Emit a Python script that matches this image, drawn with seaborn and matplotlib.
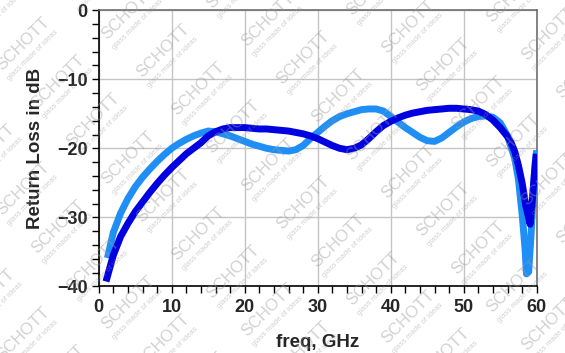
import numpy as np
import pandas as pd
import matplotlib
matplotlib.use("Agg")
import matplotlib.pyplot as plt
import seaborn as sns

# ---- data ----
freq_light = [1.2, 2.0, 3.0, 4.0, 5.0, 6.0, 7.0, 8.0, 9.0, 10.0, 11.0, 12.0, 13.0, 14.0,
              15.0, 16.0, 17.0, 18.0, 19.0, 20.0, 21.0, 22.0, 23.0, 24.0, 25.0, 26.0,
              27.0, 28.0, 29.0, 30.0, 31.0, 32.0, 33.0, 34.0, 35.0, 36.0, 37.0, 38.0,
              39.0, 40.0, 41.0, 42.0, 43.0, 44.0, 45.0, 46.0, 47.0, 48.0, 49.0, 50.0,
              51.0, 52.0, 53.0, 54.0, 55.0, 56.0, 57.0, 57.5, 58.0, 58.4, 58.6, 58.9,
              59.2, 59.5, 59.8, 60.0]
rl_light = [-35.9, -32.2, -29.4, -27.3, -25.6, -24.2, -23.0, -21.9, -20.9, -20.0, -19.3,
            -18.7, -18.2, -17.8, -17.5, -17.6, -17.9, -18.2, -18.6, -19.0, -19.4, -19.7,
            -20.0, -20.2, -20.3, -20.4, -20.2, -19.6, -18.6, -17.7, -16.8, -16.0, -15.4,
            -15.0, -14.7, -14.4, -14.3, -14.3, -14.6, -15.4, -16.2, -17.0, -17.7, -18.4,
            -18.9, -19.0, -18.5, -17.7, -16.9, -16.2, -15.7, -15.4, -15.3, -15.5, -16.3,
            -18.2, -21.5, -24.5, -29.5, -34.5, -38.2, -37.9, -33.0, -27.0, -22.0, -20.3]

freq_dark = [1.0, 1.5, 2.0, 3.0, 4.0, 5.0, 6.0, 7.0, 8.0, 9.0, 10.0, 11.0, 12.0, 13.0,
             14.0, 15.0, 16.0, 17.0, 18.0, 19.0, 20.0, 21.0, 22.0, 23.0, 24.0, 25.0,
             26.0, 27.0, 28.0, 29.0, 30.0, 31.0, 32.0, 33.0, 34.0, 35.0, 36.0, 37.0,
             38.0, 39.0, 40.0, 41.0, 42.0, 43.0, 44.0, 45.0, 46.0, 47.0, 48.0, 49.0,
             50.0, 51.0, 52.0, 53.0, 54.0, 55.0, 56.0, 56.5, 57.0, 57.5, 58.0, 58.5,
             59.1, 59.4, 59.7, 59.95]
rl_dark = [-39.3, -37.4, -35.5, -32.8, -30.9, -29.2, -27.8, -26.4, -25.1, -23.9, -22.8,
           -21.8, -20.8, -20.0, -19.2, -18.2, -17.6, -17.2, -17.0, -17.0, -17.0, -17.1,
           -17.2, -17.2, -17.3, -17.4, -17.5, -17.7, -17.9, -18.2, -18.6, -19.1, -19.6,
           -20.0, -20.2, -20.0, -19.5, -18.6, -17.6, -16.7, -16.1, -15.6, -15.2, -14.9,
           -14.7, -14.5, -14.4, -14.3, -14.2, -14.2, -14.3, -14.4, -14.6, -15.1, -15.9,
           -17.0, -18.3, -19.2, -20.5, -22.5, -25.0, -28.3, -31.0, -27.5, -23.5, -20.8]

x_ticks = [0, 10, 20, 30, 40, 50, 60]
y_ticks = [-40, -30, -20, -10, 0]
x_label = "freq, GHz"
y_label = "Return Loss in dB"

# ---- styling ----
sns.set_theme(style="white")
plt.rcParams["font.family"] = ["Liberation Sans", "DejaVu Sans"]
plt.rcParams["axes.unicode_minus"] = True

W, H = 565, 353
fig = plt.figure(figsize=(W / 100, H / 100), dpi=100)
ax = fig.add_axes([98.7 / W, 1 - 286.3 / H, (536.7 - 98.7) / W, (286.3 - 10.3) / H])

df_light = pd.DataFrame({"freq": freq_light, "rl": rl_light})
df_dark = pd.DataFrame({"freq": freq_dark, "rl": rl_dark})

sns.lineplot(data=df_light, x="freq", y="rl", ax=ax, color="#1f8ef5", lw=5.0,
             sort=False, legend=False, zorder=3, solid_capstyle="butt")
sns.lineplot(data=df_dark, x="freq", y="rl", ax=ax, color="#0000e0", lw=5.0,
             sort=False, legend=False, zorder=4, solid_capstyle="butt")

ax.set_xlim(0, 60)
ax.set_ylim(-40, 0)
ax.set_xticks(x_ticks)
ax.set_yticks(y_ticks)
ax.set_xticks(np.arange(0, 61, 2), minor=True)
ax.set_yticks(np.arange(-40, 1, 2), minor=True)
ax.tick_params(which="both", direction="out", length=5, width=1, color="black",
               bottom=True, left=True, top=False, right=False)
ax.tick_params(axis="x", pad=4, labelsize=13)
ax.tick_params(axis="y", pad=3, labelsize=13)
for lab in ax.get_xticklabels() + ax.get_yticklabels():
    lab.set_fontweight("bold")

ax.grid(True, which="major", color="#c4c4c4", lw=1)
ax.set_axisbelow(True)
for side in ["left", "bottom"]:
    ax.spines[side].set_color("black")
    ax.spines[side].set_linewidth(1.2)
for side in ["top", "right"]:
    ax.spines[side].set_color("#6e6e6e")
    ax.spines[side].set_linewidth(1.2)

ax.set_xlabel(x_label, fontsize=13.5, fontweight="bold", labelpad=13)
ax.set_ylabel(y_label, fontsize=13.5, fontweight="bold", labelpad=9)

# ---- watermark ----
a = np.array([35.0, 38.0])
c = np.array([70.0, -69.0])
o = np.array([303.0, 203.0])
for i in range(-12, 13):
    for j in range(-6, 7):
        p = o + i * a + j * c
        if -40 < p[0] < W + 40 and -40 < p[1] < H + 40:
            fig.text(p[0] / W, 1 - p[1] / H, "SCHOTT", rotation=45, fontsize=12,
                     color="#9a9a9a", alpha=0.45, ha="center", va="center",
                     rotation_mode="anchor", zorder=10)
            q = p + np.array([10.0, 11.0])
            fig.text(q[0] / W, 1 - q[1] / H, "glass made of ideas", rotation=45,
                     fontsize=5.5, color="#9a9a9a", alpha=0.45, ha="center",
                     va="center", rotation_mode="anchor", zorder=10)

fig.savefig("out.png", dpi=100)
